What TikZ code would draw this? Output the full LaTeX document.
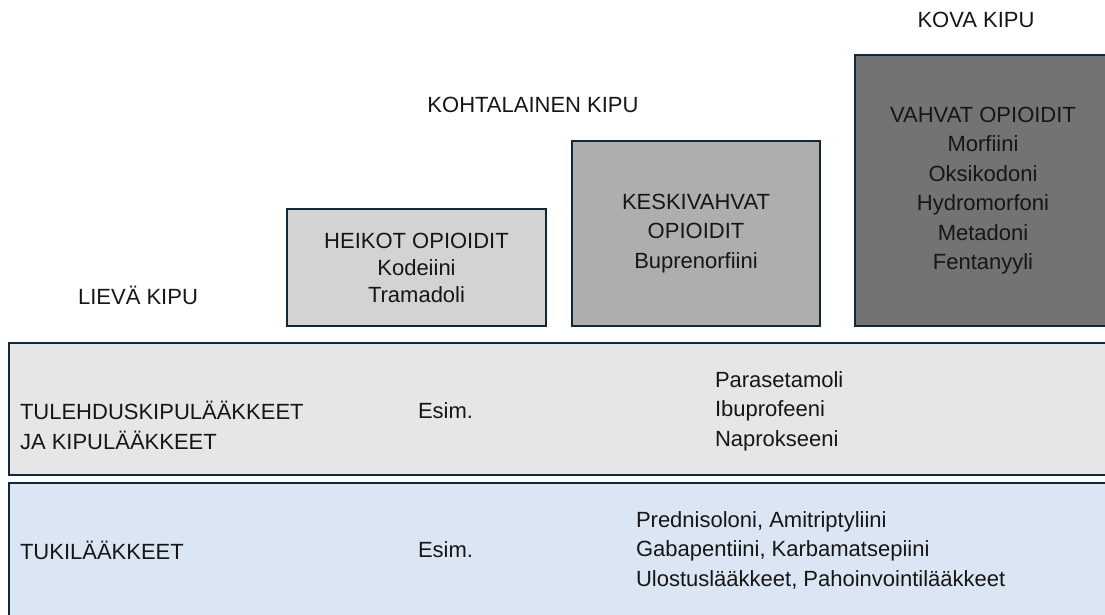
\documentclass[tikz,border=0pt]{standalone}
\usepackage{fontspec}
\setmainfont{Liberation Sans}
\definecolor{edge}{HTML}{10293A}
\definecolor{fillA}{HTML}{D3D3D3}
\definecolor{fillB}{HTML}{AEAEAE}
\definecolor{fillC}{HTML}{737373}
\definecolor{barA}{HTML}{E7E6E6}
\definecolor{barB}{HTML}{DAE6F3}
\definecolor{ink}{HTML}{161616}
\tikzset{
  level/.style={draw=edge, line width=2.4pt, inner sep=0pt, outer sep=0pt, align=center, text=ink,
    font=\fontsize{22}{29.5}\selectfont},
  lab/.style={inner sep=0pt, outer sep=0pt, text=ink, font=\fontsize{22}{29.5}\selectfont},
}
\begin{document}
\begin{tikzpicture}[x=1pt,y=-1pt]
\useasboundingbox (0,0) rectangle (1105,614);
\clip (0,0) rectangle (1105,614);
% pain levels
\node[lab] (lieva) at (138,295) {LIEVÄ KIPU};
\node[lab] (kohtalainen) at (533,105) {KOHTALAINEN KIPU};
\node[lab] (kova) at (976,20) {KOVA KIPU};
% opioid boxes
\node[level, fill=fillA, minimum width=259pt, minimum height=117pt,
  font=\fontsize{22}{27}\selectfont] (heikot) at (416.5,267.5)
  {HEIKOT OPIOIDIT\\Kodeiini\\Tramadoli};
\node[level, fill=fillB, minimum width=248pt, minimum height=185pt] (keski) at (696,233.5)
  {KESKIVAHVAT\\OPIOIDIT\\Buprenorfiini};
\node[level, fill=fillC, minimum width=256pt, minimum height=271pt] (vahvat) at (983,190.5)
  {VAHVAT OPIOIDIT\\Morfiini\\Oksikodoni\\Hydromorfoni\\Metadoni\\Fentanyyli};
% bars
\node[level, fill=barA, minimum width=1106pt, minimum height=132pt] (bar1) at (562,409) {};
\node[level, fill=barB, minimum width=1106pt, minimum height=142pt] (bar2) at (562,554) {};
% bar 1 texts
\node[lab, anchor=west, align=left] (tule) at (20,425.5) {TULEHDUSKIPULÄÄKKEET\\JA KIPULÄÄKKEET};
\node[lab, anchor=west] (esim1) at (418,411) {Esim.};
\node[lab, anchor=west, align=left] (para) at (715,411) {Parasetamoli\\Ibuprofeeni\\Naprokseeni};
% bar 2 texts
\node[lab, anchor=west] (tuki) at (20,550) {TUKILÄÄKKEET};
\node[lab, anchor=west] (esim2) at (418,550) {Esim.};
\node[lab, anchor=west, align=left] (pred) at (636,550)
  {Prednisoloni, Amitriptyliini\\Gabapentiini, Karbamatsepiini\\Ulostuslääkkeet, Pahoinvointilääkkeet};
\end{tikzpicture}
\end{document}
